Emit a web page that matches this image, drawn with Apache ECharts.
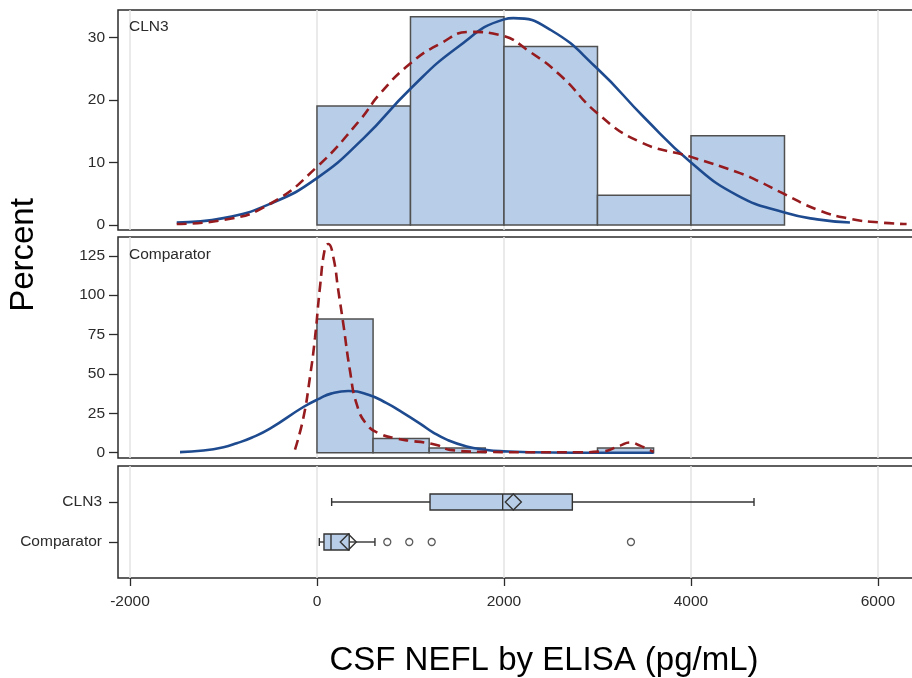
<!DOCTYPE html>
<html><head><meta charset="utf-8">
<script src="https://cdn.jsdelivr.net/npm/echarts@6/dist/echarts.min.js"></script>
<style>html,body{margin:0;padding:0;background:#fff}#c{width:912px;height:678px}</style>
</head><body><div id="c"></div>
<script>
// ---- data ----
const xTicks = [-2000, 0, 2000, 4000, 6000];
const cln3Ticks = [0, 10, 20, 30];
const compTicks = [0, 25, 50, 75, 100, 125];

const cln3BinStart = [0, 1000, 2000, 3000, 4000];
const cln3BinEnd = [1000, 2000, 3000, 4000, 5000];
const cln3Percent = [19.05, 33.33, 28.57, 4.76, 14.29];

const compBinStart = [0, 600, 1200, 3000];
const compBinEnd = [600, 1200, 1800, 3600];
const compPercent = [84.85, 9.09, 3.03, 3.03];

const cln3NormalX = [-1500, -1000, -500, 0, 500, 1000, 1500, 2000, 2100, 2500, 3000, 3500, 4000, 4500, 5000, 5350, 5700];
const cln3NormalY = [0.4, 1.1, 3.4, 7.5, 13.9, 21.8, 28.4, 32.9, 33.1, 31.2, 25.0, 17.2, 10.0, 4.7, 2.0, 0.9, 0.4];

const cln3KernelX = [-1500, -1000, -500, 0, 460, 674, 995, 1316, 1636, 1957, 2278, 2599, 3005, 3454, 4000, 4524, 4738, 4952, 5360, 5700, 6021, 6306];
const cln3KernelY = [0.15, 0.8, 3.4, 9.3, 16.8, 21.0, 25.8, 29.0, 30.9, 30.4, 27.7, 24.0, 17.8, 13.3, 10.9, 8.3, 6.9, 5.3, 2.4, 1.0, 0.4, 0.15];

const compNormalX = [-1465, -1216, -1000, -859, -700, -503, -146, 32, 150, 335, 550, 745, 888, 1102, 1244, 1400, 1601, 1800, 1957, 2500, 3000, 3600];
const compNormalY = [0.4, 1.4, 3.5, 6.0, 9.5, 15.3, 29.0, 34.5, 37.5, 39.2, 36.8, 31.5, 26.5, 18.5, 12.8, 8.0, 4.0, 1.9, 1.0, 0.1, 0.0, 0.0];

const compKernelX = [-235, -146, -75, -21, 32, 86, 121, 175, 228, 281, 353, 424, 531, 674, 852, 1000, 1150, 1300, 1422, 1743, 2200, 2800, 3050, 3241, 3348, 3455, 3600];
const compKernelY = [2, 22, 48, 73, 105, 130, 132.5, 124, 103, 82, 52, 31, 18, 12, 9, 7.5, 6.5, 4.5, 1.8, 0.6, 0.3, 0.3, 0.8, 4.5, 6.5, 4.5, 0.5];

const boxGroups = ['CLN3', 'Comparator'];
const boxWhiskerLow = [157, 25];
const boxQ1 = [1209, 75];
const boxMedian = [1986, 150];
const boxQ3 = [2731, 345];
const boxWhiskerHigh = [4674, 620];
const boxMean = [2100, 335];
const compOutliers = [752, 987, 1227, 3358];

// ---- style ----
const FONT = 'Liberation Sans, Arial, sans-serif';
const TXT = '#2b2b2b';
const FILL = '#B8CEE8';
const BAR_EDGE = '#505050';
const BLUE = '#1E4B8F';
const RED = '#951B1E';
const GRIDLINE = '#e3e3e3';
const XMIN = -2128, XMAX = 6984;

function pairs(xs, ys) { return xs.map((x, i) => [x, ys[i]]); }

const chart = echarts.init(document.getElementById('c'), null, { renderer: 'canvas' });

const grids = [
  { left: 118, top: 10, width: 852, height: 220 },
  { left: 118, top: 237, width: 852, height: 221 },
  { left: 118, top: 466, width: 852, height: 112 }
].map(g => Object.assign(g, { show: true, borderColor: '#2b2b2b', borderWidth: 1.5, backgroundColor: 'transparent', containLabel: false, outerBoundsMode: 'none' }));

const xAxes = [0, 1, 2].map(i => ({
  type: 'value', gridIndex: i, min: XMIN, max: XMAX, position: 'bottom',
  axisLine: { show: false, onZero: false },
  axisTick: { show: i === 2, customValues: xTicks, length: 8, lineStyle: { color: TXT, width: 1.3 } },
  axisLabel: { show: i === 2, customValues: xTicks, margin: 16, color: TXT, fontSize: 15.5, fontFamily: FONT, formatter: v => String(v) },
  splitLine: { show: true, lineStyle: { color: GRIDLINE, width: 1.5 } }
}));

const yAxisCommon = {
  type: 'value', position: 'left',
  axisLine: { show: false, onZero: false },
  splitLine: { show: false }
};
const yAxes = [
  Object.assign({}, yAxisCommon, {
    gridIndex: 0, min: -0.8, max: 34.4,
    axisTick: { show: true, customValues: cln3Ticks, length: 9, lineStyle: { color: TXT, width: 1.3 } },
    axisLabel: { customValues: cln3Ticks, margin: 13, color: TXT, fontSize: 15.5, fontFamily: FONT, formatter: v => String(v) }
  }),
  Object.assign({}, yAxisCommon, {
    gridIndex: 1, min: -3.36, max: 136.9,
    axisTick: { show: true, customValues: compTicks, length: 9, lineStyle: { color: TXT, width: 1.3 } },
    axisLabel: { customValues: compTicks, margin: 13, color: TXT, fontSize: 15.5, fontFamily: FONT, formatter: v => String(v) }
  }),
  Object.assign({}, yAxisCommon, {
    gridIndex: 2, min: 0.1, max: 2.9, inverse: true,
    axisTick: { show: true, customValues: [1, 2], length: 9, lineStyle: { color: TXT, width: 1.3 } },
    axisLabel: { customValues: [1, 2], margin: 16, color: TXT, fontSize: 15.5, fontFamily: FONT,
      formatter: v => boxGroups[Math.round(v) - 1] || '' }
  })
];

function histSeries(idx, starts, ends, pcts) {
  return {
    type: 'custom', xAxisIndex: idx, yAxisIndex: idx, silent: true, z: 2,
    data: starts.map((s, i) => [s, ends[i], pcts[i]]),
    encode: { x: [0, 1], y: 2 },
    renderItem: (params, api) => {
      const p0 = api.coord([api.value(0), 0]);
      const p1 = api.coord([api.value(1), api.value(2)]);
      return {
        type: 'rect',
        shape: { x: p0[0], y: p1[1], width: p1[0] - p0[0], height: p0[1] - p1[1] },
        style: { fill: FILL, stroke: BAR_EDGE, lineWidth: 1.5 }
      };
    }
  };
}

function curve(idx, xs, ys, color, dashed) {
  return {
    type: 'line', xAxisIndex: idx, yAxisIndex: idx, data: pairs(xs, ys),
    showSymbol: false, symbol: 'none', smooth: 0.5, silent: true, z: dashed ? 4 : 3,
    lineStyle: { color: color, width: 2.6, type: dashed ? [10, 6] : 'solid' }
  };
}

const boxSeries = {
  type: 'custom', xAxisIndex: 2, yAxisIndex: 2, silent: true, z: 3,
  data: boxGroups.map((g, i) => [i + 1, boxWhiskerLow[i], boxQ1[i], boxMedian[i], boxQ3[i], boxWhiskerHigh[i], boxMean[i]]),
  encode: { y: 0, x: [1, 2, 3, 4, 5, 6] },
  renderItem: (params, api) => {
    const yc = api.value(0);
    const c = k => api.coord([api.value(k), yc]);
    const wl = c(1), q1 = c(2), md = c(3), q3 = c(4), wh = c(5), mn = c(6);
    const y = wl[1], hb = 8, hc = 4, d = 8;
    const st = { stroke: '#333', lineWidth: 1.4, fill: null };
    return {
      type: 'group', children: [
        { type: 'line', shape: { x1: wl[0], y1: y, x2: q1[0], y2: y }, style: st },
        { type: 'line', shape: { x1: q3[0], y1: y, x2: wh[0], y2: y }, style: st },
        { type: 'line', shape: { x1: wl[0], y1: y - hc, x2: wl[0], y2: y + hc }, style: st },
        { type: 'line', shape: { x1: wh[0], y1: y - hc, x2: wh[0], y2: y + hc }, style: st },
        { type: 'rect', shape: { x: q1[0], y: y - hb, width: q3[0] - q1[0], height: 2 * hb }, style: { fill: FILL, stroke: '#333', lineWidth: 1.4 } },
        { type: 'line', shape: { x1: md[0], y1: y - hb, x2: md[0], y2: y + hb }, style: st },
        { type: 'polygon', shape: { points: [[mn[0] - d, y], [mn[0], y - d], [mn[0] + d, y], [mn[0], y + d]] }, style: { fill: 'rgba(0,0,0,0)', stroke: '#333', lineWidth: 1.4 } }
      ]
    };
  }
};

const outlierSeries = {
  type: 'scatter', xAxisIndex: 2, yAxisIndex: 2, silent: true, z: 4,
  data: compOutliers.map(v => [v, 2]),
  symbol: 'circle', symbolSize: 7,
  itemStyle: { color: '#fff', borderColor: '#333', borderWidth: 1.3 }
};

const option = {
  animation: false,
  backgroundColor: '#fff',
  grid: grids,
  xAxis: xAxes,
  yAxis: yAxes,
  series: [
    histSeries(0, cln3BinStart, cln3BinEnd, cln3Percent),
    curve(0, cln3NormalX, cln3NormalY, BLUE, false),
    curve(0, cln3KernelX, cln3KernelY, RED, true),
    histSeries(1, compBinStart, compBinEnd, compPercent),
    curve(1, compNormalX, compNormalY, BLUE, false),
    curve(1, compKernelX, compKernelY, RED, true),
    boxSeries,
    outlierSeries
  ],
  graphic: [
    { type: 'text', x: 129, y: 27, z: 10, style: { text: 'CLN3', fill: TXT, fontSize: 15.5, fontFamily: FONT, align: 'left', verticalAlign: 'middle' } },
    { type: 'text', x: 129, y: 255, z: 10, style: { text: 'Comparator', fill: TXT, fontSize: 15.5, fontFamily: FONT, align: 'left', verticalAlign: 'middle' } },
    { type: 'text', x: 24, y: 255, rotation: Math.PI / 2, z: 10, style: { text: 'Percent', fill: '#000', fontSize: 33, fontFamily: FONT, align: 'center', verticalAlign: 'middle' } },
    { type: 'text', x: 544, y: 661, z: 10, style: { text: 'CSF NEFL by ELISA (pg/mL)', fill: '#000', fontSize: 33, fontFamily: FONT, align: 'center', verticalAlign: 'middle' } }
  ]
};
chart.setOption(option);
</script>
</body></html>
